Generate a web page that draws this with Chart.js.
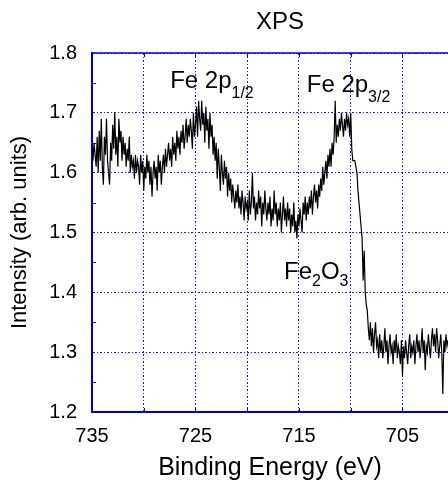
<!DOCTYPE html>
<html>
<head>
<meta charset="utf-8">
<script src="https://cdn.jsdelivr.net/npm/chart.js"></script>
<style>
  html, body { margin: 0; padding: 0; background: #fff; }
  #wrap { width: 448px; height: 483px; }
</style>
</head>
<body>
<div id="wrap"><canvas id="xpsChart"></canvas></div>
<script>
// binding energy (eV), 0.1 eV sampling
var energies = [
  735.0, 734.9, 734.8, 734.7, 734.6, 734.5, 734.4, 734.3, 734.2, 734.1,
  734.0, 733.9, 733.8, 733.7, 733.6, 733.5, 733.4, 733.3, 733.2, 733.1,
  733.0, 732.9, 732.8, 732.7, 732.6, 732.5, 732.4, 732.3, 732.2, 732.1,
  732.0, 731.9, 731.8, 731.7, 731.6, 731.5, 731.4, 731.3, 731.2, 731.1,
  731.0, 730.9, 730.8, 730.7, 730.6, 730.5, 730.4, 730.3, 730.2, 730.1,
  730.0, 729.9, 729.8, 729.7, 729.6, 729.5, 729.4, 729.3, 729.2, 729.1,
  729.0, 728.9, 728.8, 728.7, 728.6, 728.5, 728.4, 728.3, 728.2, 728.1,
  728.0, 727.9, 727.8, 727.7, 727.6, 727.5, 727.4, 727.3, 727.2, 727.1,
  727.0, 726.9, 726.8, 726.7, 726.6, 726.5, 726.4, 726.3, 726.2, 726.1,
  726.0, 725.9, 725.8, 725.7, 725.6, 725.5, 725.4, 725.3, 725.2, 725.1,
  725.0, 724.9, 724.8, 724.7, 724.6, 724.5, 724.4, 724.3, 724.2, 724.1,
  724.0, 723.9, 723.8, 723.7, 723.6, 723.5, 723.4, 723.3, 723.2, 723.1,
  723.0, 722.9, 722.8, 722.7, 722.6, 722.5, 722.4, 722.3, 722.2, 722.1,
  722.0, 721.9, 721.8, 721.7, 721.6, 721.5, 721.4, 721.3, 721.2, 721.1,
  721.0, 720.9, 720.8, 720.7, 720.6, 720.5, 720.4, 720.3, 720.2, 720.1,
  720.0, 719.9, 719.8, 719.7, 719.6, 719.5, 719.4, 719.3, 719.2, 719.1,
  719.0, 718.9, 718.8, 718.7, 718.6, 718.5, 718.4, 718.3, 718.2, 718.1,
  718.0, 717.9, 717.8, 717.7, 717.6, 717.5, 717.4, 717.3, 717.2, 717.1,
  717.0, 716.9, 716.8, 716.7, 716.6, 716.5, 716.4, 716.3, 716.2, 716.1,
  716.0, 715.9, 715.8, 715.7, 715.6, 715.5, 715.4, 715.3, 715.2, 715.1,
  715.0, 714.9, 714.8, 714.7, 714.6, 714.5, 714.4, 714.3, 714.2, 714.1,
  714.0, 713.9, 713.8, 713.7, 713.6, 713.5, 713.4, 713.3, 713.2, 713.1,
  713.0, 712.9, 712.8, 712.7, 712.6, 712.5, 712.4, 712.3, 712.2, 712.1,
  712.0, 711.9, 711.8, 711.7, 711.6, 711.5, 711.4, 711.3, 711.2, 711.1,
  711.0, 710.9, 710.8, 710.7, 710.6, 710.5, 710.4, 710.3, 710.2, 710.1,
  710.0, 709.9, 709.8, 709.7, 709.6, 709.5, 709.4, 709.3, 709.2, 709.1,
  709.0, 708.9, 708.8, 708.7, 708.6, 708.5, 708.4, 708.3, 708.2, 708.1,
  708.0, 707.9, 707.8, 707.7, 707.6, 707.5, 707.4, 707.3, 707.2, 707.1,
  707.0, 706.9, 706.8, 706.7, 706.6, 706.5, 706.4, 706.3, 706.2, 706.1,
  706.0, 705.9, 705.8, 705.7, 705.6, 705.5, 705.4, 705.3, 705.2, 705.1,
  705.0, 704.9, 704.8, 704.7, 704.6, 704.5, 704.4, 704.3, 704.2, 704.1,
  704.0, 703.9, 703.8, 703.7, 703.6, 703.5, 703.4, 703.3, 703.2, 703.1,
  703.0, 702.9, 702.8, 702.7, 702.6, 702.5, 702.4, 702.3, 702.2, 702.1,
  702.0, 701.9, 701.8, 701.7, 701.6, 701.5, 701.4, 701.3, 701.2, 701.1,
  701.0, 700.9, 700.8, 700.7, 700.6
];
// intensity (arb. units)
var intensities = [
  1.64, 1.62, 1.65, 1.63, 1.61, 1.66, 1.60, 1.67, 1.62, 1.69,
  1.61, 1.58, 1.66, 1.63, 1.69, 1.62, 1.60, 1.58, 1.65, 1.62,
  1.68, 1.64, 1.70, 1.63, 1.66, 1.61, 1.69, 1.65, 1.67, 1.62,
  1.66, 1.63, 1.65, 1.61, 1.64, 1.62, 1.66, 1.60, 1.63, 1.61,
  1.62, 1.59, 1.63, 1.60, 1.62, 1.61, 1.58, 1.63, 1.60, 1.62,
  1.57, 1.61, 1.59, 1.63, 1.60, 1.62, 1.58, 1.61, 1.56, 1.60,
  1.62, 1.59, 1.61, 1.57, 1.63, 1.60, 1.62, 1.58, 1.61, 1.63,
  1.60, 1.64, 1.61, 1.63, 1.65, 1.62, 1.64, 1.61, 1.66, 1.63,
  1.65, 1.62, 1.67, 1.64, 1.66, 1.63, 1.67, 1.65, 1.68, 1.64,
  1.66, 1.69, 1.65, 1.68, 1.66, 1.69, 1.67, 1.64, 1.70, 1.66,
  1.68, 1.71, 1.66, 1.72, 1.69, 1.67, 1.72, 1.68, 1.70, 1.65,
  1.71, 1.67, 1.69, 1.64, 1.70, 1.66, 1.68, 1.63, 1.66, 1.62,
  1.65, 1.59, 1.64, 1.61, 1.57, 1.63, 1.60, 1.58, 1.62, 1.59,
  1.61, 1.56, 1.60, 1.57, 1.59, 1.55, 1.58, 1.56, 1.54, 1.57,
  1.55, 1.58, 1.54, 1.56, 1.53, 1.57, 1.55, 1.52, 1.56, 1.54,
  1.55, 1.52, 1.57, 1.53, 1.55, 1.60, 1.54, 1.56, 1.52, 1.55,
  1.53, 1.57, 1.54, 1.56, 1.51, 1.55, 1.53, 1.57, 1.54, 1.52,
  1.55, 1.53, 1.56, 1.51, 1.54, 1.52, 1.57, 1.53, 1.55, 1.51,
  1.54, 1.52, 1.55, 1.50, 1.53, 1.56, 1.52, 1.54, 1.51, 1.55,
  1.52, 1.54, 1.50, 1.53, 1.51, 1.55, 1.50, 1.52, 1.49, 1.53,
  1.51, 1.54, 1.52, 1.50, 1.55, 1.53, 1.56, 1.52, 1.55, 1.53,
  1.56, 1.54, 1.57, 1.53, 1.56, 1.58, 1.55, 1.57, 1.54, 1.58,
  1.56, 1.59, 1.57, 1.61, 1.58, 1.60, 1.62, 1.59, 1.63, 1.61,
  1.64, 1.61, 1.65, 1.63, 1.66, 1.72, 1.65, 1.68, 1.66, 1.69,
  1.67, 1.70, 1.68, 1.66, 1.69, 1.67, 1.70, 1.68, 1.69, 1.66,
  1.70, 1.64, 1.62, 1.62, 1.62, 1.61, 1.60, 1.57, 1.55, 1.53,
  1.51, 1.49, 1.42, 1.47, 1.40, 1.38, 1.37, 1.34, 1.32, 1.35,
  1.31, 1.34, 1.30, 1.33, 1.35, 1.31, 1.32, 1.29, 1.33, 1.30,
  1.32, 1.29, 1.31, 1.34, 1.30, 1.32, 1.28, 1.31, 1.33, 1.30,
  1.31, 1.28, 1.32, 1.30, 1.33, 1.29, 1.31, 1.30, 1.28, 1.32,
  1.26, 1.31, 1.29, 1.32, 1.30, 1.28, 1.31, 1.33, 1.29, 1.31,
  1.30, 1.32, 1.28, 1.31, 1.33, 1.30, 1.32, 1.29, 1.31, 1.34,
  1.30, 1.32, 1.27, 1.31, 1.30, 1.33, 1.31, 1.29, 1.32, 1.34,
  1.31, 1.33, 1.30, 1.34, 1.32, 1.29, 1.31, 1.33, 1.30, 1.23,
  1.32, 1.30, 1.33, 1.31, 1.32
];

var xGridValues = [735, 730, 725, 720, 715, 710, 705];
var xTickLabels = [735, 725, 715, 705];
var yTickValues = [1.2, 1.3, 1.4, 1.5, 1.6, 1.7, 1.8];
var yMinorValues = [1.25, 1.35, 1.45, 1.55, 1.65, 1.75];

var peakLabels = [
  { main: 'Fe 2p', sub: '1/2', rest: '', e: 727.45, v: 1.7415 },
  { main: 'Fe 2p', sub: '3/2', rest: '', e: 714.25, v: 1.735 },
  { main: 'Fe', sub: '2', rest: 'O', sub2: '3', e: 716.45, v: 1.4216 }
];

var axisBlue = '#0000cc';
var gridBlue = '#1a1ae0';
var fontFamily = '"Liberation Sans", Arial, sans-serif';

var points = energies.map(function (e, i) { return { x: e, y: intensities[i] }; });

// title, top frame line, minor ticks and peak labels
var extras = {
  id: 'extras',
  afterDraw: function (chart) {
    var ctx = chart.ctx;
    var a = chart.chartArea;
    var x = chart.scales.x;
    var y = chart.scales.y;
    ctx.save();

    ctx.strokeStyle = axisBlue;
    ctx.lineWidth = 1.5;
    ctx.beginPath();
    ctx.moveTo(a.left, a.top);
    ctx.lineTo(a.right, a.top);
    ctx.stroke();

    ctx.lineWidth = 1;
    ctx.beginPath();
    yMinorValues.forEach(function (v) {
      var py = Math.round(y.getPixelForValue(v)) + 0.5;
      ctx.moveTo(a.left, py);
      ctx.lineTo(a.left + 4, py);
    });
    xGridValues.forEach(function (v) {
      var px = Math.round(x.getPixelForValue(v)) + 0.5;
      ctx.moveTo(px, a.top);
      ctx.lineTo(px, a.top + 4);
      ctx.moveTo(px, a.bottom);
      ctx.lineTo(px, a.bottom - 4);
    });
    ctx.stroke();

    ctx.fillStyle = '#000';
    ctx.textAlign = 'center';
    ctx.textBaseline = 'middle';
    ctx.font = '24px ' + fontFamily;
    ctx.fillText('XPS', 280, 22);

    ctx.textAlign = 'left';
    ctx.textBaseline = 'alphabetic';
    peakLabels.forEach(function (p) {
      var px = x.getPixelForValue(p.e);
      var py = y.getPixelForValue(p.v);
      ctx.font = '24px ' + fontFamily;
      ctx.fillText(p.main, px, py);
      px += ctx.measureText(p.main).width;
      ctx.font = '16px ' + fontFamily;
      var drop = p.sub2 ? 7 : 10;
      ctx.fillText(p.sub, px, py + drop);
      px += ctx.measureText(p.sub).width;
      if (p.rest) {
        ctx.font = '24px ' + fontFamily;
        ctx.fillText(p.rest, px, py);
        px += ctx.measureText(p.rest).width;
        ctx.font = '16px ' + fontFamily;
        ctx.fillText(p.sub2, px, py + drop);
      }
    });
    ctx.restore();
  }
};

var ctx = document.getElementById('xpsChart');
var xpsChart = new Chart(ctx, {
  type: 'line',
  data: {
    datasets: [
      {
        label: 'XPS',
        data: points,
        borderColor: '#000',
        borderWidth: 1.2,
        pointRadius: 0,
        fill: false,
        tension: 0
      }
    ]
  },
  options: {
    responsive: true,
    maintainAspectRatio: false,
    animation: false,
    devicePixelRatio: 1,
    layout: { padding: { top: 53, left: 0, right: 0, bottom: 0 } },
    plugins: {
      legend: { display: false },
      tooltip: { enabled: false }
    },
    scales: {
      x: {
        type: 'linear',
        reverse: true,
        min: 700.6,
        max: 735,
        afterBuildTicks: function (scale) {
          scale.ticks = xGridValues.map(function (v) { return { value: v }; });
        },
        afterFit: function (scale) { scale.height = 71; },
        ticks: {
          autoSkip: false,
          maxRotation: 0,
          padding: 12,
          color: '#000',
          font: { family: fontFamily, size: 20 },
          callback: function (v) { return xTickLabels.indexOf(v) >= 0 ? String(v) : ''; }
        },
        grid: { color: gridBlue, lineWidth: 1, drawTicks: false },
        border: { color: axisBlue, width: 2, dash: [2, 2, 1, 2] },
        title: {
          display: true,
          text: 'Binding Energy (eV)',
          color: '#000',
          padding: 0,
          font: { family: fontFamily, size: 25 }
        }
      },
      y: {
        min: 1.2,
        max: 1.8,
        afterBuildTicks: function (scale) {
          scale.ticks = yTickValues.map(function (v) { return { value: v }; });
        },
        afterFit: function (scale) { scale.width = 92; },
        ticks: {
          padding: 15,
          color: '#000',
          font: { family: fontFamily, size: 20 },
          callback: function (v) { return v.toFixed(1); }
        },
        grid: { color: gridBlue, lineWidth: 1, drawTicks: false },
        border: { color: axisBlue, width: 2, dash: [2, 2, 1, 2] },
        title: {
          display: true,
          text: 'Intensity (arb. units)',
          color: '#000',
          padding: { top: 7, bottom: 0 },
          font: { family: fontFamily, size: 22 }
        }
      }
    }
  },
  plugins: [extras]
});
</script>
</body>
</html>
